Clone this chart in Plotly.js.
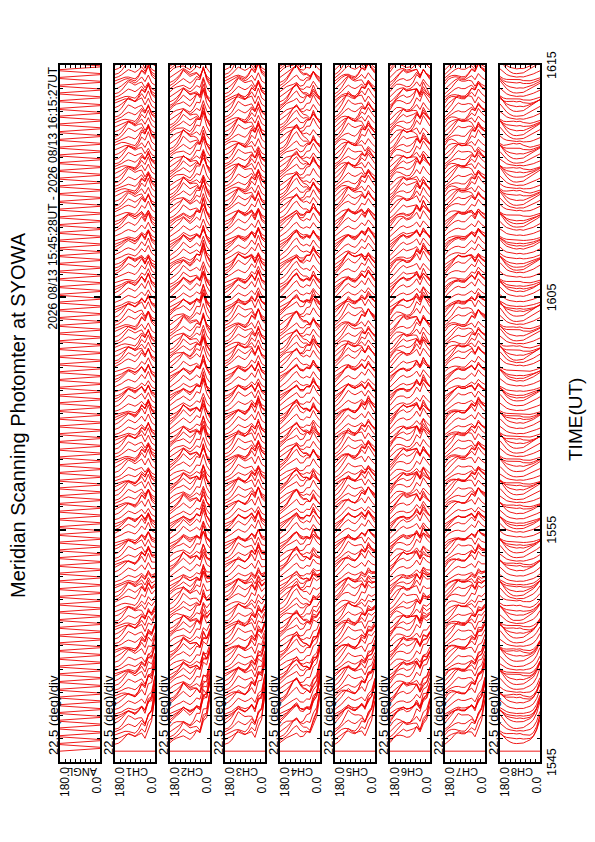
<!DOCTYPE html>
<html><head><meta charset="utf-8">
<script src="https://cdn.plot.ly/plotly-3.0.1.min.js"></script>
<style>html,body{margin:0;padding:0;background:#fff}#chart{width:595px;height:842px}</style>
</head><body><div id="chart"></div>
<script>
// ---------------- data ----------------
const channels = ['ANGL','CH1','CH2','CH3','CH4','CH5','CH6','CH7','CH8'];
const timeTickMinutes = [0, 10, 20, 30];          // minutes after 15:45 UT
const timeTickLabels  = ['1545','1555','1605','1615'];
const angles = [180,165,150,135,120,105,90,75,60,45,30,15,0];
const scanStartMin = 28/60;   // 15:45:28 UT
const scanStepMin  = 10/60;   // one scan every 10 s
const scanCount    = 180;
// intensity profiles across the meridian (units of one scan spacing), 180 -> 0 deg
const profCH1 = [1.0,1.3,1.8,2.5,3.0,2.7,2.3,3.0,4.0,2.9,4.6,2.6,2.0];
const profCH2 = [1.0,1.6,2.2,2.8,3.7,3.1,2.5,3.1,4.0,3.4,6.0,3.4,2.2];
const profCH3 = [1.0,1.4,2.0,2.9,3.7,3.2,2.8,3.4,4.4,3.2,5.2,3.1,2.5];
const profCH4 = [1.0,1.6,2.3,3.1,4.0,4.6,3.4,3.1,3.7,3.4,5.0,3.7,2.8];
const profCH5 = [1.0,1.7,2.5,3.4,4.0,3.4,3.1,3.7,4.6,3.7,5.2,4.0,3.1];
const profCH6 = [1.0,1.9,2.8,3.4,3.7,3.2,3.4,4.0,5.0,3.7,5.5,4.3,3.4];
const profCH7 = [1.0,1.9,2.5,3.1,3.4,3.1,3.1,3.7,4.3,3.4,5.0,4.0,3.4];
const profCH8 = [3.2,2.4,1.8,1.5,1.3,1.2,1.3,1.2,1.4,1.6,1.9,2.3,2.7];
// per-scan brightness factors (outer sky / mid sky)
const scanGainA = [
 0,0.8,1.0,1.2,1.0,0.7,1.3,1.2,0.9,0.6,0.8,1.2,1.5,1.3,1.0,0.8,1.0,1.2,1.4,1.0,
 0.8,0.7,1.0,1.3,1.5,1.1,0.9,0.8,1.0,1.2,1.4,1.1,0.8,0.6,0.9,1.0,1.3,1.5,1.1,0.9,
 1.0,1.2,0.8,0.7,1.0,1.3,1.5,1.2,0.9,0.8,1.0,1.2,1.0,0.8,1.1,1.3,1.2,1.0,0.7,0.8,
 1.1,1.4,1.2,1.0,0.8,1.0,1.2,1.3,1.0,0.8,0.7,1.0,1.3,1.4,1.1,0.9,0.8,1.0,1.2,1.3,
 1.0,0.8,1.1,1.4,1.5,1.2,0.9,0.8,1.0,1.2,1.0,0.7,0.8,1.1,1.3,1.0,0.8,1.0,1.3,1.1,
 0.8,1.0,1.2,1.3,1.0,0.8,1.0,1.4,1.2,1.0,0.8,1.1,1.3,1.0,0.7,0.9,1.2,1.4,1.2,0.9,
 1.0,1.2,1.3,1.0,0.8,0.7,1.0,1.2,1.4,1.2,0.9,0.8,1.0,1.3,1.1,1.0,0.8,1.1,1.3,1.0,
 0.8,1.0,1.3,1.4,1.1,0.9,0.8,1.0,1.2,1.3,1.0,0.7,0.8,1.0,1.3,1.5,1.2,0.9,0.8,1.0,
 1.2,1.3,1.0,0.8,1.0,1.2,1.4,1.1,0.9,0.8,1.0,1.3,1.1,0.9,0.8,1.0,1.2,1.3,1.0,0.8
];
const scanGainB = [
 0,1.2,0.8,0.7,1.0,1.4,1.5,1.1,0.8,0.7,1.0,1.3,0.9,0.6,0.8,1.2,1.5,1.3,0.9,0.7,
 0.8,1.1,1.4,1.2,0.8,0.6,0.9,1.3,1.6,1.2,0.8,0.7,1.0,1.4,1.1,0.8,0.7,1.0,1.3,1.5,
 1.2,0.9,0.7,0.8,1.1,1.4,1.0,0.7,0.9,1.3,1.5,1.2,0.8,0.6,0.9,1.2,1.4,1.1,0.8,1.0,
 1.3,1.0,0.7,0.9,1.2,1.5,1.3,0.9,0.6,0.8,1.1,1.4,1.2,0.9,0.7,1.0,1.3,1.6,1.2,0.8,
 0.7,0.9,1.2,1.4,1.1,0.8,0.6,0.9,1.3,1.5,1.2,0.9,0.7,1.0,1.4,1.2,0.8,0.7,1.1,1.3,
 1.5,1.1,0.8,0.7,1.0,1.3,1.2,0.9,0.7,1.1,1.4,1.6,1.2,0.8,0.7,0.9,1.2,1.4,1.0,0.8,
 0.6,0.9,1.3,1.5,1.2,0.9,0.8,1.0,1.3,1.1,0.8,0.6,0.9,1.2,1.5,1.3,0.9,0.7,1.0,1.2,
 1.4,1.2,0.9,0.7,0.8,1.1,1.5,1.3,1.0,0.7,0.9,1.2,1.4,1.1,0.8,0.6,0.9,1.3,1.5,1.2,
 0.9,0.7,1.0,1.3,1.6,1.2,0.8,0.7,1.0,1.3,1.1,0.9,0.7,1.0,1.4,1.2,0.9,0.8,1.1,1.3
];
const midSkyWeight = [0,0,0.3,0.7,1,1,1,0.7,0.3,0,0,0,0];
// horizon brightening in the early scans (units of scan spacing)
const scanSpike = [0,12,10,11,9,10,9,10,8,9,8,9,7,8,7,8,7,6,7,6,6,7,6,5,6,5,5,4,5,4,4,3,4,3,3,3,3,2.5,3,2.5,2,1.5,2,1.5,1.2,1.2,1,1.2,0.8,0.6,0.6,0.5,0.4,0.3,0.2];
const horizonShape = [0,0,0,0,0,0,0,0,0,0,0.1,0.4,1.0];
const spikeScale = [0,1.0,1.0,1.0,1.0,0.8,0.7,0.8,0.4];
const anglUnitPerDeg = 0.7/180;  // ANGL trace: angle value -> scan-spacing units

// ---------------- layout constants ----------------
const W = 595, H = 842;
const panelLeftPx = [60,115,170,225,280,335,390,445,500];
const panelWidthPx = 40;
const plotTopPx = 65, plotBottomPx = 762;
const px = v => v / W;
const py = v => 1 - v / H;
const FONT = 'Liberation Sans, Arial, Helvetica, sans-serif';
const RED = '#ee0000';

const profiles = [null, profCH1, profCH2, profCH3, profCH4, profCH5, profCH6, profCH7, profCH8];

const traces = [];
const layout = {
  width: W, height: H,
  margin: {l:0, r:0, t:0, b:0},
  paper_bgcolor: '#fff', plot_bgcolor: '#fff',
  showlegend: false,
  annotations: []
};

channels.forEach((ch, k) => {
  const n = k + 1;
  const sfx = n === 1 ? '' : String(n);
  const xs = [], ys = [];
  for (let i = 0; i < scanCount; i++) {
    const t = scanStartMin + i * scanStepMin;
    const gA = (k % 2) ? scanGainA[i] : scanGainB[i];
    const gB = (k % 2) ? scanGainB[i] : scanGainA[i];
    for (let j = 0; j < angles.length; j++) {
      let units;
      if (k === 0) {
        units = (i % 2 ? angles[j] : 180 - angles[j]) * anglUnitPerDeg;
      } else {
        const w = midSkyWeight[j];
        units = profiles[k][j] * (gA * (1 - w) + gB * w) +
                spikeScale[k] * (scanSpike[i] || 0) * horizonShape[j];
      }
      xs.push(angles[j]);
      ys.push(t + units * scanStepMin);
    }
    xs.push(null); ys.push(null);
  }
  traces.push({
    type: 'scatter', mode: 'lines', x: xs, y: ys,
    xaxis: 'x' + sfx, yaxis: 'y' + sfx,
    line: {color: RED, width: 0.9}, connectgaps: false, hoverinfo: 'skip'
  });
  layout['xaxis' + sfx] = {
    domain: [px(panelLeftPx[k]), px(panelLeftPx[k] + panelWidthPx)],
    range: [180, 0], anchor: 'y' + sfx,
    showline: true, mirror: 'allticks', linecolor: '#000', linewidth: 2,
    ticks: 'inside', tick0: 0, dtick: 22.5, ticklen: 3, tickwidth: 1, tickcolor: '#000',
    showticklabels: false, showgrid: false, zeroline: false, fixedrange: true
  };
  layout['yaxis' + sfx] = {
    domain: [py(plotBottomPx), py(plotTopPx)],
    range: [0, 30], anchor: 'x' + sfx,
    showline: true, mirror: 'allticks', linecolor: '#000', linewidth: 2,
    ticks: 'inside', tick0: 0, dtick: 10, ticklen: 6, tickwidth: 2, tickcolor: '#000',
    minor: {dtick: 1, ticks: 'inside', ticklen: 3, tickwidth: 1, tickcolor: '#000'},
    showticklabels: false, showgrid: false, zeroline: false, fixedrange: true
  };
  const L = panelLeftPx[k];
  layout.annotations.push({xref:'paper', yref:'paper', x: px(L - 7), y: py(757),
    xanchor:'center', yanchor:'bottom', textangle: -90, showarrow:false,
    text:'22.5 (deg)/div', font:{family:FONT, size:13, color:'#000'}});
  layout.annotations.push({xref:'paper', yref:'paper', x: px(L + 5), y: py(799),
    xanchor:'center', yanchor:'bottom', textangle: -90, showarrow:false,
    text:'180.0', font:{family:FONT, size:12, color:'#000'}});
  layout.annotations.push({xref:'paper', yref:'paper', x: px(L + 36), y: py(796),
    xanchor:'center', yanchor:'bottom', textangle: -90, showarrow:false,
    text:'0.0', font:{family:FONT, size:12, color:'#000'}});
  layout.annotations.push({xref:'paper', yref:'paper', x: px(L + 22), y: py(772),
    xanchor:'center', yanchor:'middle', textangle: 180, showarrow:false,
    text: ch, font:{family:FONT, size:11, color:'#000'}});
});

timeTickMinutes.forEach((m, i) => {
  layout.annotations.push({xref:'paper', yref:'y9', x: px(552), y: m,
    xanchor:'center', yanchor:'middle', textangle: -90, showarrow:false,
    text: timeTickLabels[i], font:{family:FONT, size:12.5, color:'#000'}});
});
layout.annotations.push({xref:'paper', yref:'paper', x: px(575), y: py(420),
  xanchor:'center', yanchor:'middle', textangle: -90, showarrow:false,
  text:'TIME(UT)', font:{family:FONT, size:19, color:'#000'}});
layout.annotations.push({xref:'paper', yref:'paper', x: px(18), y: py(415),
  xanchor:'center', yanchor:'middle', textangle: -90, showarrow:false,
  text:'Meridian Scanning Photomter at SYOWA', font:{family:FONT, size:20, color:'#000'}});
layout.annotations.push({xref:'paper', yref:'paper', x: px(52), y: py(65),
  xanchor:'center', yanchor:'top', textangle: -90, showarrow:false,
  text:'2026 08/13 15:45:28UT - 2026 08/13 16:15:27UT', font:{family:FONT, size:12, color:'#000'}});

Plotly.newPlot('chart', traces, layout, {staticPlot: true, displayModeBar: false});
</script>
</body></html>
